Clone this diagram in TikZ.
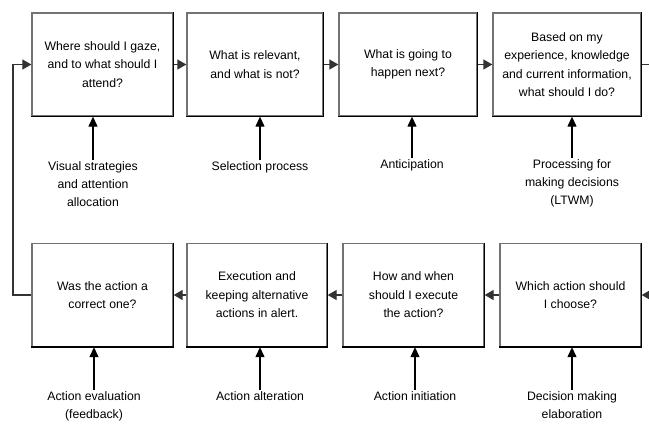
\documentclass[tikz,border=0pt]{standalone}
\usepackage{fontspec}
\setmainfont{Liberation Sans}
\usetikzlibrary{arrows.meta,calc}
\begin{document}
\begin{tikzpicture}[x=1bp,y=-1bp,
  qbox/.style={draw=black!55,line width=1.3bp,fill=white,minimum height=103bp,inner sep=3bp,
    align=center,font=\fontsize{12.3}{18.5}\selectfont},
  lbl/.style={align=center,font=\fontsize{12.3}{18.5}\selectfont,anchor=north,inner sep=1bp},
  conn/.style={draw=black!80,line width=1.3bp,-{Triangle[length=9bp,width=10bp]}},
  up/.style={draw=black,line width=1.2bp,-{Triangle[length=10bp,width=9bp]}},
  plain/.style={draw=black!80,line width=1.3bp}]
\useasboundingbox (0,0) rectangle (649,425);
% top row
\node[qbox,minimum width=141bp] (b1) at (102.5,64.5) {Where should I gaze,\\and to what should I\\attend?};
\node[qbox,minimum width=136bp] (b2) at (255,64.5) {What is relevant,\\and what is not?};
\node[qbox,minimum width=138bp] (b3) at (408,64.5) {What is going to\\happen next?};
\node[qbox,minimum width=148bp] (b4) at (567,64.5) {Based on my\\experience, knowledge\\and current information,\\what should I do?};
% bottom row
\node[qbox,minimum width=141bp] (b5) at (102.5,295) {Was the action a\\correct one?};
\node[qbox,minimum width=140bp] (b6) at (257,295) {Execution and\\keeping alternative\\actions in alert.};
\node[qbox,minimum width=141bp] (b7) at (413.5,295) {How and when\\should I execute\\the action?};
\node[qbox,minimum width=141bp] (b8) at (570.5,295) {Which action should\\I choose?};
% dark right/bottom edges
\foreach \b in {b1,b2,b3,b4,b5,b6,b7,b8}
  \draw[black,line width=1.5bp] (\b.north east) -- (\b.south east) -- (\b.south west);
% labels
\node[lbl] (l1) at (93,160) {Visual strategies\\and attention\\allocation};
\node[lbl] (l2) at (260,160) {Selection process};
\node[lbl] (l3) at (412,158) {Anticipation};
\node[lbl] (l4) at (572,158) {Processing for\\making decisions\\(LTWM)};
\node[lbl] (l5) at (94,390) {Action evaluation\\(feedback)};
\node[lbl] (l6) at (260,390) {Action alteration};
\node[lbl] (l7) at (415,390) {Action initiation};
\node[lbl] (l8) at (572,390) {Decision making\\elaboration};
\foreach \l/\b in {l1/b1,l2/b2,l3/b3,l4/b4,l5/b5,l6/b6,l7/b7,l8/b8}
  \draw[up] (\l.north) -- (\l.north |- \b.south);
% horizontal connectors
\draw[conn] (b1.east) -- (b2.west);
\draw[conn] (b2.east) -- (b3.west);
\draw[conn] (b3.east) -- (b4.west);
\coordinate (r1) at (649,64.5);
\coordinate (r2) at (649,295);
\draw[plain] (b4.east) -- (r1);
\draw[conn] (r2) -- (b8.east);
\draw[conn] (b8.west) -- (b7.east);
\draw[conn] (b7.west) -- (b6.east);
\draw[conn] (b6.west) -- (b5.east);
% feedback loop
\coordinate (f1) at (13,295);
\coordinate (f2) at (13,64.5);
\draw[conn] (b5.west) -- (f1) -- (f2) -- (b1.west);
\end{tikzpicture}
\end{document}
